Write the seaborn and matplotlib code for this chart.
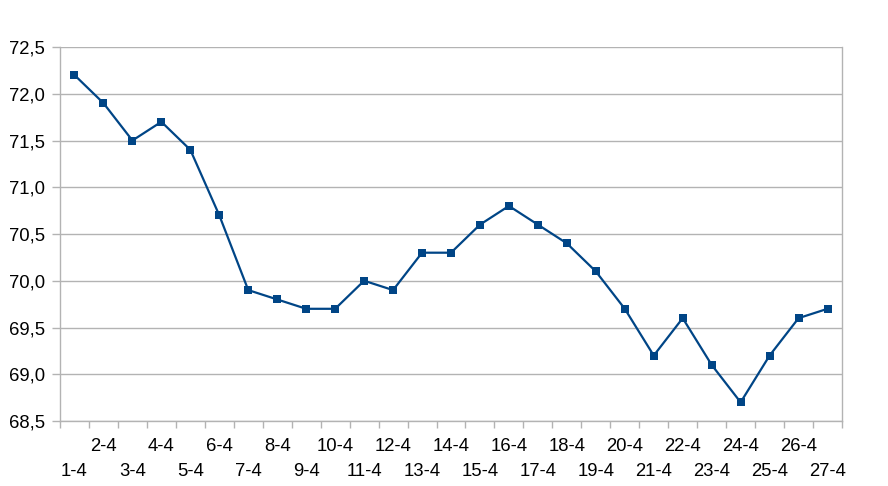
import matplotlib
matplotlib.use("Agg")
import matplotlib.pyplot as plt
import seaborn as sns
import pandas as pd
import numpy as np
from matplotlib.ticker import FixedLocator, FuncFormatter

dates = ["1-4", "2-4", "3-4", "4-4", "5-4", "6-4", "7-4", "8-4", "9-4", "10-4",
         "11-4", "12-4", "13-4", "14-4", "15-4", "16-4", "17-4", "18-4", "19-4",
         "20-4", "21-4", "22-4", "23-4", "24-4", "25-4", "26-4", "27-4"]
values = [72.2, 71.9, 71.5, 71.7, 71.4, 70.7, 69.9, 69.8, 69.7, 69.7,
          70.0, 69.9, 70.3, 70.3, 70.6, 70.8, 70.6, 70.4, 70.1,
          69.7, 69.2, 69.6, 69.1, 68.7, 69.2, 69.6, 69.7]
y_ticks = [68.5, 69.0, 69.5, 70.0, 70.5, 71.0, 71.5, 72.0, 72.5]

sns.set_style("white")
plt.rcParams['font.family'] = ['Liberation Sans', 'DejaVu Sans']

pos = np.arange(len(dates))
df = pd.DataFrame({"pos": pos, "value": values})

fig = plt.figure(figsize=(8.88, 4.86), dpi=100)
ax = fig.add_axes([60/888, 65/486, 782/888, 374/486])

sns.lineplot(data=df, x="pos", y="value", ax=ax, color="#004586",
             linewidth=1.6, marker="s", markersize=5.5, markeredgewidth=0,
             markerfacecolor="#004586")

ax.set_xlim(-0.5, len(dates) - 0.5)
ax.set_ylim(y_ticks[0], y_ticks[-1])
ax.set_xlabel("")
ax.set_ylabel("")

grid_c = "#b3b3b3"
fs = 13.3
ax.yaxis.set_major_locator(FixedLocator(y_ticks))
ax.yaxis.set_major_formatter(FuncFormatter(lambda v, p: f"{v:.1f}".replace(".", ",")))
ax.grid(axis="y", color=grid_c, linewidth=1)
ax.grid(axis="x", visible=False)

# category boundary ticks
ax.xaxis.set_major_locator(FixedLocator(np.arange(-0.5, len(dates), 1.0)))
ax.xaxis.set_major_formatter(FuncFormatter(lambda v, p: ""))
# upper row: even dates (2-4, 4-4, ...)
upper_pos = pos[1::2]
upper_lab = dates[1::2]
ax.xaxis.set_minor_locator(FixedLocator(upper_pos))
ax.set_xticklabels(upper_lab, minor=True)

ax.tick_params(axis="x", which="major", direction="out", length=5, width=1,
               color=grid_c, bottom=True)
ax.tick_params(axis="x", which="minor", length=0, pad=12.5, labelsize=fs,
               labelcolor="black")
ax.tick_params(axis="y", direction="out", length=6, width=1, color=grid_c,
               left=True, labelsize=fs, pad=4.8, labelcolor="black")

# lower row: odd dates (1-4, 3-4, ...)
sec = ax.secondary_xaxis("bottom")
sec.set_xticks(pos[0::2], dates[0::2])
sec.tick_params(axis="x", length=0, pad=30, labelsize=fs, labelcolor="black")
sec.spines["bottom"].set_visible(False)

for s in ["left", "right", "bottom"]:
    ax.spines[s].set_visible(True)
    ax.spines[s].set_color(grid_c)
    ax.spines[s].set_linewidth(1)
ax.spines["top"].set_visible(False)

fig.savefig("out.png", dpi=100)
